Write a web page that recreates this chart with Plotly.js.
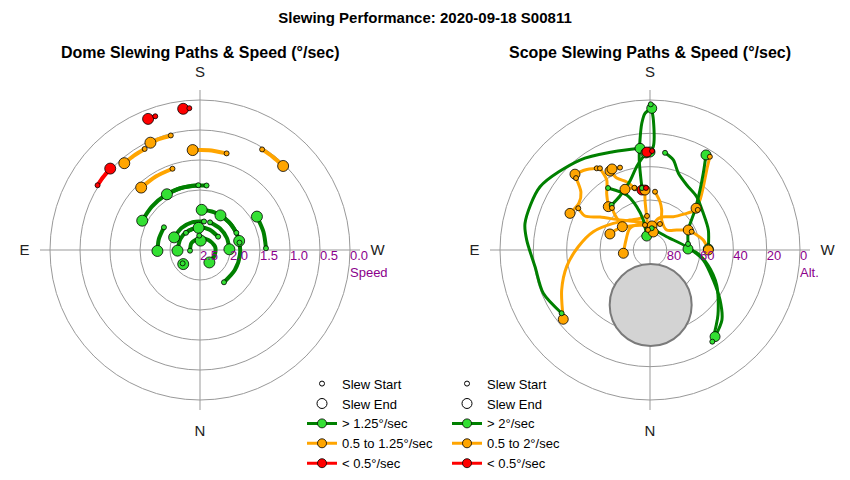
<!DOCTYPE html>
<html><head><meta charset="utf-8">
<script src="https://cdn.plot.ly/plotly-3.0.1.min.js"></script>
<style>html,body{margin:0;padding:0;background:#fff}#chart{width:850px;height:480px}</style>
</head><body><div id="chart"></div>
<script>
// ---------- DATA ----------
// Dome slews: azimuth path samples (deg) and speed (deg/sec)
const domeAz = [
  [175.7,173.2],
  [161.5,158.4],
  [122.3,127,132.2],
  [165.7,160,155.2],
  [151.3,145,138.9],
  [195.4,185,175.8],
  [211.7,218,224.7],
  [161.3,149,136.7],
  [185.8,173,161,149.3],
  [178.5,163,148,132,116.9],
  [268.5,254,239.6],
  [122.2,105,88.7],
  [323.4,300,275,250,225,200,182.4],
  [244.7,228,210.6],
  [259.4,257],
  [188,164,140,116],
  [200,223,246,268.7],
  [233.7,205,180,150,120,88.4],
  [140.7,158,176.4],
  [86,130,180,220,257,290,323],
  [177,184],
  [52.4,50]
];
const domeSpeed = [
  [0.13,0.13],
  [0.15,0.15],
  [0.48,0.48,0.48],
  [0.53,0.53,0.53],
  [0.58,0.58,0.58],
  [0.83,0.83,0.83],
  [0.53,0.53,0.53],
  [1.07,1.07,1.07],
  [1.42,1.42,1.42,1.42],
  [1.42,1.42,1.42,1.42,1.42],
  [1.40,1.40,1.40],
  [1.79,1.79,1.79],
  [1.83,1.83,1.83,1.83,1.83,1.83,1.83],
  [1.83,1.83,1.83],
  [1.83,1.83],
  [2.02,2.02,2.02,2.02],
  [2.01,2.01,2.01,2.01],
  [2.125,2.125,2.125,2.125,2.125,2.125],
  [2.13,2.13,2.13],
  [2.333,2.317,2.305,2.283,2.243,2.242,2.24],
  [2.26,2.343],
  [2.135,2.135]
];

// Scope slews: azimuth (deg) and altitude (deg) path samples, speed class
const scopeAz = [
  [54.4,67.9,81.7,94.6,102.1,119.9,142.1,159.5,174.4],
  [175,162.5,146.3,126,107.9,92.6,78.7,65.6,51.4],
  [184.5,231.5,264.9,280.6,295.4,305.5,314.2,323.1],
  [325.8,313.7,297.7,284.5,273.7,268.5],
  [139.6,150.9,163.8,171.2,177.6],
  [172.6,173.2,174.8,176.3,177.9,180.7],
  [180.3,181.5,181.8,180],
  [181.2,178.2],
  [176.3,172.4],
  [188.8,194.5,200.3,209.5,221.2,235.5,251.1,269],
  [261,242.4,228.4,219.8,214.8,210.5],
  [145.9,157,162.9,167.4,166.7],
  [146.9,140.9,135.3],
  [148.5,148.3,142.6,136.1],
  [166.3,161.1,155.2,153.1],
  [160,154.9],
  [165.9,157.6],
  [120.2,117.6,123.4,135,160.3,184.8],
  [201,173,137.7,112.6,83],
  [246.3,259.4,270],
  [212.7,215.3,220.1,225,227.8],
  [230,225,215,199.5,190.1,190.4],
  [174.3,174.3,174.3,175.2],
  [184.9,191.7,196.3,201.3,219.9,233.2,242.4],
  [134.2,130,123.5,114.6],
  [137.9,135,130.1],
  [168.7,140.2,123.3,111.8]
];
const scopeAlt = [
  [24.8,20.9,20.3,15.8,13.3,13.9,21.6,27.1,28.7],
  [69.5,70.1,68.4,62.8,54.2,46.9,39.0,31.8,23.4],
  [76.9,77.2,67.9,57.5,48,38.4,29.8,25],
  [23.5,33.6,44.8,54.1,61.7,67.2],
  [54.5,52.9,46.9,39,31.7],
  [52.5,35.6,23.7,13.8,7.9,5],
  [2.6,12,28,31.2],
  [30.6,31.2],
  [52.7,53.7],
  [31,34.2,40.9,45.2,47.5,51.2,53,55],
  [66.9,64.1,53.9,43.1,34,23.8],
  [45.1,54.2,62.8,71.6,81.4],
  [31.5,28.1,26],
  [32.5,40.6,47.2,53.9],
  [51.9,46.9,42.4,36.9],
  [37.4,36.3],
  [51.5,50.6],
  [40.2,46,54.1,64.5,72.2,75.5],
  [73.3,73.7,72.2,74.4,73.9],
  [62.7,57.5,55],
  [23.5,31.1,40.3,47.6,52.7],
  [52.6,58.9,65.6,69,73,79],
  [77.9,69.9,59.9,53.9],
  [54.9,60.4,65,70.7,74.4,70,64.1],
  [28.1,35.9,38.9,37.2],
  [56,60.3,68.3],
  [74.7,71.3,67,64.1]
];
const scopeCat = ['fast','mid','fast','fast','fast','fast','fast','slow','slow','fast','fast','fast',
  'mid','mid','mid','mid','mid','mid','mid','mid','mid','mid','mid','mid','mid','mid','mid'];

// Obstructed zone (scope plot)
const zoneAz = [359.3];
const zoneAlt = [57];

// Axis ticks & labels
const compassVals = [0,90,180,270];
const compassText = ['N','E','S','W'];
const domeTickVals = [2.5,2.0,1.5,1.0,0.5,0.0];
const domeTickText = ['2.5','2.0','1.5','1.0','0.5','0.0<br>Speed'];
const scopeTickVals = [80,60,40,20,0];
const scopeTickText = ['80','60','40','20','0<br>Alt.'];
const domeLegend = ['Slew Start','Slew End','> 1.25°/sec','0.5 to 1.25°/sec','< 0.5°/sec'];
const scopeLegend = ['Slew Start','Slew End','> 2°/sec','0.5 to 2°/sec','< 0.5°/sec'];

// ---------- STYLE ----------
const FONT = 'Liberation Sans, Arial, sans-serif';
const COL = {
  fast: {line:'#008000', fill:'#33e033'},
  mid:  {line:'#ffa500', fill:'#ffa500'},
  slow: {line:'#ff0000', fill:'#ff0000'}
};
const PURPLE = '#8b008b';
const GRID = '#999999';

function domeClass(sp){
  const m = sp.reduce((a,b)=>a+b,0)/sp.length;
  return m > 1.25 ? 'fast' : (m >= 0.5 ? 'mid' : 'slow');
}
const domeCat = domeSpeed.map(domeClass);

const traces = [];
const order = ['mid','fast','slow'];

// obstructed zone
traces.push({type:'scatterpolar', subplot:'polar2', mode:'markers', r:zoneAlt, theta:zoneAz,
  marker:{size:82, color:'#d3d3d3', line:{color:'#7a7a7a', width:2}}, showlegend:false, hoverinfo:'skip'});

function addPaths(subplot, thetaArr, rArr, cats, width, endSize){
  order.forEach(c => {
    thetaArr.forEach((th, i) => {
      if (cats[i] !== c) return;
      traces.push({type:'scatterpolar', subplot, mode:'lines', theta:th, r:rArr[i],
        line:{color:COL[c].line, width, shape:'spline', smoothing:0.8}, showlegend:false, hoverinfo:'skip'});
    });
  });
  // end markers
  traces.push({type:'scatterpolar', subplot, mode:'markers',
    theta: thetaArr.map(a=>a[a.length-1]), r: rArr.map(a=>a[a.length-1]),
    marker:{size:endSize, color:cats.map(c=>COL[c].fill), line:{color:'#000', width:0.8}},
    showlegend:false, hoverinfo:'skip'});
  // start markers
  traces.push({type:'scatterpolar', subplot, mode:'markers',
    theta: thetaArr.map(a=>a[0]), r: rArr.map(a=>a[0]),
    marker:{size:5, color:cats.map(c=>COL[c].fill), line:{color:'#000', width:0.8}},
    showlegend:false, hoverinfo:'skip'});
}
addPaths('polar', domeAz, domeSpeed, domeCat, 4, 11);
addPaths('polar2', scopeAz, scopeAlt, scopeCat, 3, 10);

// radial tick labels
traces.push({type:'scatterpolar', subplot:'polar', mode:'text', r:domeTickVals, theta:domeTickVals.map(()=>270),
  text:domeTickText, textposition:'bottom right', textfont:{color:PURPLE, size:13, family:FONT},
  showlegend:false, hoverinfo:'skip', cliponaxis:false});
traces.push({type:'scatterpolar', subplot:'polar2', mode:'text', r:scopeTickVals, theta:scopeTickVals.map(()=>270),
  text:scopeTickText, textposition:'bottom right', textfont:{color:PURPLE, size:13, family:FONT},
  showlegend:false, hoverinfo:'skip', cliponaxis:false});

// legend entries
function addLegend(subplot, legend, names){
  traces.push({type:'scatterpolar', subplot, legend, name:names[0], mode:'markers', r:[null], theta:[null],
    marker:{size:5, color:'#fff', line:{color:'#000', width:1}}});
  traces.push({type:'scatterpolar', subplot, legend, name:names[1], mode:'markers', r:[null], theta:[null],
    marker:{size:10, color:'#fff', line:{color:'#000', width:1}}});
  ['fast','mid','slow'].forEach((c,k) => {
    traces.push({type:'scatterpolar', subplot, legend, name:names[2+k], mode:'lines+markers', r:[null], theta:[null],
      line:{color:COL[c].line, width:3}, marker:{size:9, color:COL[c].fill, line:{color:'#000', width:0.8}}});
  });
}
addLegend('polar', 'legend', domeLegend);
addLegend('polar2', 'legend2', scopeLegend);

function polarLayout(xd, range, tickvals){
  return {
    domain:{x:xd, y:[70/480, 390/480]},
    bgcolor:'rgba(0,0,0,0)',
    radialaxis:{range, tickvals, showticklabels:false, ticks:'', showline:false,
      gridcolor:GRID, gridwidth:1},
    angularaxis:{rotation:270, direction:'clockwise', tickmode:'array', tickvals:compassVals,
      ticktext:compassText, showline:false, gridcolor:GRID, gridwidth:1,
      ticks:'outside', ticklen:7, tickcolor:'rgba(0,0,0,0)',
      tickfont:{size:15, color:'#222', family:FONT}}
  };
}

const legendBase = {yanchor:'top', xanchor:'left', y:0.232, bgcolor:'rgba(0,0,0,0)',
  font:{size:13, family:FONT, color:'#000'}, tracegroupgap:0};

const layout = {
  width:850, height:480,
  margin:{l:0, r:0, t:0, b:0},
  paper_bgcolor:'#fff',
  font:{family:FONT},
  showlegend:true,
  title:{text:'<b>Slewing Performance: 2020-09-18 S00811</b>', x:0.5, xanchor:'center', y:1-18/480, yanchor:'middle',
    font:{size:15, family:FONT, color:'#000'}},
  polar: polarLayout([40/850, 360/850], [2.5, -1/6], [2.0,1.5,1.0,0.5,0.0]),
  polar2: polarLayout([490/850, 810/850], [90, -6], [80,60,40,20,0]),
  legend: Object.assign({x:302/850}, legendBase),
  legend2: Object.assign({x:447/850}, legendBase),
  annotations:[
    {text:'<b>Dome Slewing Paths &amp; Speed (°/sec)</b>', x:200/850, y:1-52/480, xref:'paper', yref:'paper',
      showarrow:false, xanchor:'center', yanchor:'middle', font:{size:16, family:FONT, color:'#000'}},
    {text:'<b>Scope Slewing Paths &amp; Speed (°/sec)</b>', x:650/850, y:1-52/480, xref:'paper', yref:'paper',
      showarrow:false, xanchor:'center', yanchor:'middle', font:{size:16, family:FONT, color:'#000'}}
  ]
};

Plotly.newPlot('chart', traces, layout, {staticPlot:true, displayModeBar:false});
</script></body></html>
